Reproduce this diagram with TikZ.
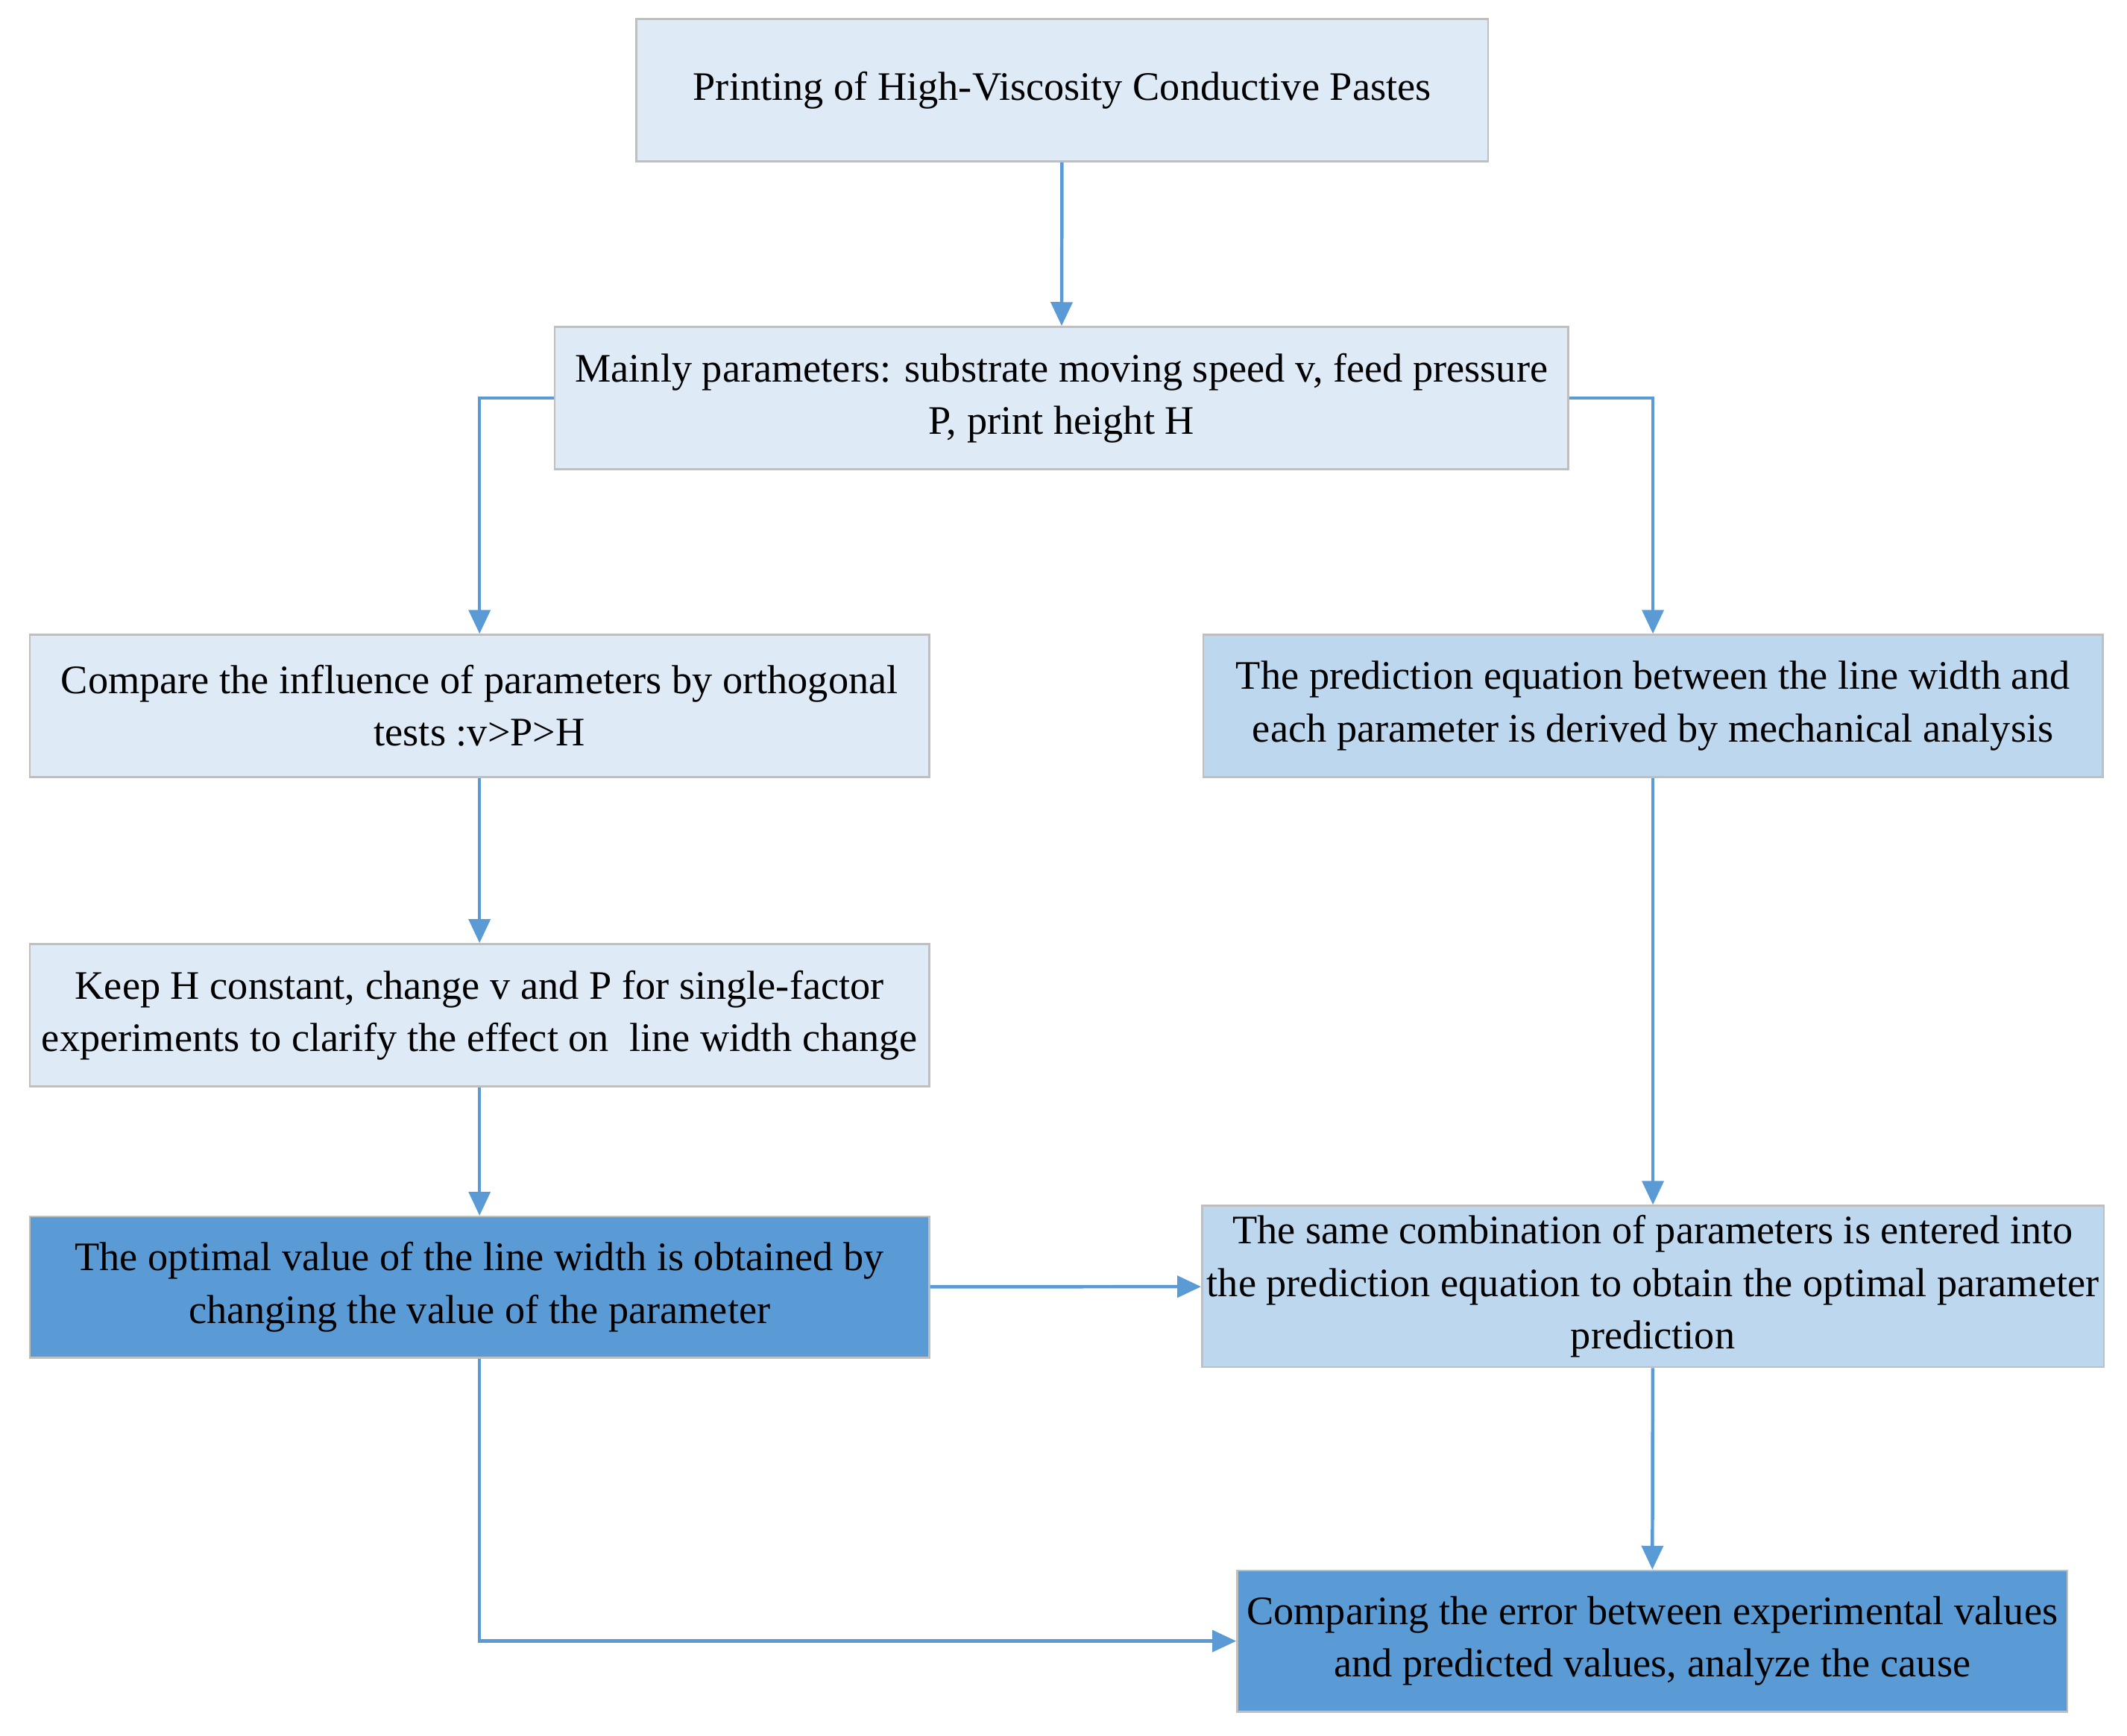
\documentclass[tikz,border=0pt]{standalone}
\usepackage{fontspec}
\setmainfont{Liberation Serif}
\usepackage{xcolor}
\usetikzlibrary{arrows.meta}
\definecolor{pale}{HTML}{DEEAF6}
\definecolor{mid}{HTML}{BDD7EE}
\definecolor{deep}{HTML}{5B9BD5}
\definecolor{rim}{HTML}{BFBFBF}
\tikzset{
  box/.style={draw=rim, line width=.8pt, align=center, inner sep=2pt,
    font=\fontsize{17}{22}\selectfont},
  flow/.style={draw=deep, line width=1.4pt, -{Triangle[length=10pt,width=9pt]}}
}
\begin{document}
\begin{tikzpicture}[x=0.02cm, y=-0.02cm]
				%Marco
				\useasboundingbox (0,0) rectangle (1568,1280);
				%Cajas
				\node[box, fill=pale, minimum width=628*0.02cm, minimum height=105*0.02cm] (print) at (783,66.5) {Printing of High-Viscosity Conductive Pastes};
				\node[box, fill=pale, minimum width=747*0.02cm, minimum height=105*0.02cm] (param) at (782.5,293.5) {Mainly parameters: substrate moving speed v, feed pressure\\P, print height H};
				\node[box, fill=pale, minimum width=663*0.02cm, minimum height=105*0.02cm] (ortho) at (353.5,520.5) {Compare the influence of parameters by orthogonal\\tests :v>P>H};
				\node[box, fill=mid, minimum width=663*0.02cm, minimum height=105*0.02cm] (predeq) at (1218.5,520.5) {The prediction equation between the line width and\\each parameter is derived by mechanical analysis};
				\node[box, fill=pale, minimum width=663*0.02cm, minimum height=105*0.02cm] (single) at (353.5,748.5) {Keep H constant, change v and P for single-factor\\experiments to clarify the effect on\ \ line width change};
				\node[box, fill=deep, minimum width=663*0.02cm, minimum height=104*0.02cm] (optim) at (353.5,949) {The optimal value of the line width is obtained by\\changing the value of the parameter};
				\node[box, fill=mid, minimum width=663*0.02cm, minimum height=119*0.02cm] (combo) at (1218.5,948.5) {The same combination of parameters is entered into\\the prediction equation to obtain the optimal parameter\\prediction};
				\node[box, fill=deep, minimum width=612*0.02cm, minimum height=104*0.02cm] (errcmp) at (1218,1210) {Comparing the error between experimental values\\and predicted values, analyze the cause};
				%Flechas
				\draw[flow] (print) -- (param);
				\draw[flow] (param.west) -| (ortho.north);
				\draw[flow] (param.east) -| (predeq.north);
				\draw[flow] (ortho) -- (single);
				\draw[flow] (single) -- (optim);
				\draw[flow] (predeq) -- (combo);
				\draw[flow] (optim) -- (combo);
				\draw[flow] (combo) -- (errcmp);
				\draw[flow] (optim.south) |- (errcmp.west);
\end{tikzpicture}
\end{document}
